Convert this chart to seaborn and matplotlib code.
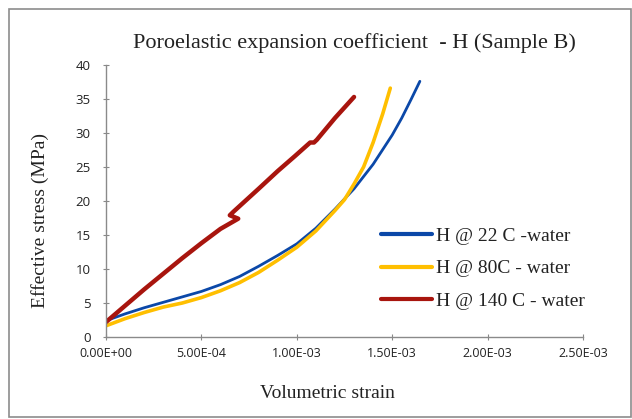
import numpy as np
import pandas as pd
import matplotlib
matplotlib.use("Agg")
import matplotlib.pyplot as plt
import seaborn as sns
from matplotlib.lines import Line2D

# ---- data ----
strain_22 = [0.0, 0.1e-3, 0.2e-3, 0.3e-3, 0.4e-3, 0.5e-3, 0.6e-3, 0.7e-3, 0.8e-3,
             0.9e-3, 1.0e-3, 1.1e-3, 1.2e-3, 1.3e-3, 1.4e-3, 1.5e-3, 1.55e-3,
             1.6e-3, 1.645e-3]
stress_22 = [2.4, 3.4, 4.3, 5.1, 5.9, 6.7, 7.7, 8.9, 10.4,
             12.0, 13.7, 16.0, 18.8, 21.8, 25.4, 29.7, 32.2,
             35.0, 37.6]

strain_80 = [0.0, 0.1e-3, 0.2e-3, 0.3e-3, 0.4e-3, 0.5e-3, 0.6e-3, 0.7e-3, 0.8e-3,
             0.9e-3, 1.0e-3, 1.1e-3, 1.2e-3, 1.25e-3, 1.3e-3, 1.35e-3, 1.4e-3,
             1.45e-3, 1.49e-3]
stress_80 = [1.65, 2.7, 3.6, 4.4, 5.0, 5.8, 6.8, 8.0, 9.5,
             11.3, 13.2, 15.6, 18.6, 20.2, 22.5, 25.0, 28.6,
             32.8, 36.6]

strain_140 = [0.0, 0.1e-3, 0.2e-3, 0.3e-3, 0.4e-3, 0.5e-3, 0.6e-3, 0.693e-3,
              0.649e-3, 0.667e-3, 0.8e-3, 0.9e-3, 0.99e-3, 1.07e-3, 1.09e-3,
              1.105e-3, 1.2e-3, 1.3e-3]
stress_140 = [2.2, 4.6, 7.0, 9.3, 11.6, 13.8, 15.9, 17.4,
              17.9, 18.4, 21.8, 24.4, 26.6, 28.6, 28.6,
              29.0, 32.2, 35.3]

series_labels = ["H @ 22 C -water", "H @ 80C - water", "H @ 140 C - water"]
series_colors = ["#0B48A8", "#FFBF00", "#A8150E"]
series_widths = [2.0, 2.6, 3.2]

x_ticks = [0.0, 0.5e-3, 1.0e-3, 1.5e-3, 2.0e-3, 2.5e-3]
x_tick_labels = ["0.00E+00", "5.00E-04", "1.00E-03", "1.50E-03", "2.00E-03", "2.50E-03"]
y_ticks = [0, 5, 10, 15, 20, 25, 30, 35, 40]

title = "Poroelastic expansion coefficient  - H (Sample B)"
xlabel = "Volumetric strain"
ylabel = "Effective stress (MPa)"

# ---- figure ----
sns.set_theme(style="white")
plt.rcParams['font.family'] = ['DejaVu Sans']

W, H = 632, 419
fig = plt.figure(figsize=(W / 100, H / 100), dpi=100)
fig.patch.set_facecolor("white")

ax = fig.add_axes([106 / W, 1 - 337 / H, (583 - 106) / W, (337 - 65) / H])

serif = "Liberation Serif"
tickfont = "Open Sans"

frames = []
for xs, ys, lab in zip([strain_22, strain_80, strain_140],
                       [stress_22, stress_80, stress_140], series_labels):
    frames.append(pd.DataFrame({"strain": xs, "stress": ys, "series": lab}))
df = pd.concat(frames, ignore_index=True)

for lab, col, lw in zip(series_labels, series_colors, series_widths):
    sub = df[df["series"] == lab]
    sns.lineplot(data=sub, x="strain", y="stress", sort=False, estimator=None,
                 color=col, linewidth=lw, ax=ax, label=lab,
                 solid_capstyle="round", solid_joinstyle="round")

ax.set_xlim(0, 2.5e-3)
ax.set_ylim(0, 40)
ax.set_xticks(x_ticks)
ax.set_xticklabels(x_tick_labels, fontfamily=tickfont, fontsize=9, color="#222222")
ax.set_yticks(y_ticks)
ax.set_yticklabels([str(v) for v in y_ticks], fontfamily=tickfont, fontsize=9.5, color="#222222")
ax.tick_params(axis="both", which="major", direction="inout", length=4, width=0.8,
               color="#888888", bottom=True, left=True)
ax.tick_params(axis="x", pad=5)
ax.tick_params(axis="y", pad=9)
for s in ["top", "right"]:
    ax.spines[s].set_visible(False)
for s in ["left", "bottom"]:
    ax.spines[s].set_color("#8a8a8a")
    ax.spines[s].set_linewidth(1.0)
ax.set_xlabel("")
ax.set_ylabel("")
ax.set_facecolor("white")
ax.grid(False)

# legend
handles = [Line2D([0], [0], color=c, lw=3) for c in series_colors]
leg = fig.legend(handles, series_labels, loc="upper left",
                 bbox_to_anchor=(381 / W, 1 - 227 / H), frameon=False,
                 prop={"family": serif, "size": 14}, handlelength=2.6,
                 handletextpad=0.25, labelspacing=0.78, borderpad=0,
                 borderaxespad=0)
if ax.get_legend() is not None:
    ax.get_legend().remove()
for t in leg.get_texts():
    t.set_color("#222222")

# titles / labels
fig.text(354 / W, 1 - 43 / H, title, ha="center", va="center",
         fontfamily=serif, fontsize=16, color="#222222")
fig.text(327 / W, 1 - 393 / H, xlabel, ha="center", va="center",
         fontfamily=serif, fontsize=14, color="#222222")
fig.text(40 / W, 1 - 220 / H, ylabel, ha="center", va="center", rotation=90,
         fontfamily=serif, fontsize=14, color="#222222")

# outer chart border
border = plt.Rectangle((8.5 / W, 1 - 416.5 / H), (631 - 8.5) / W, (416.5 - 9) / H,
                       transform=fig.transFigure, fill=False,
                       edgecolor="#8c8c8c", linewidth=1.2)
fig.patches.append(border)

fig.savefig("out.png", dpi=100, facecolor="white")
